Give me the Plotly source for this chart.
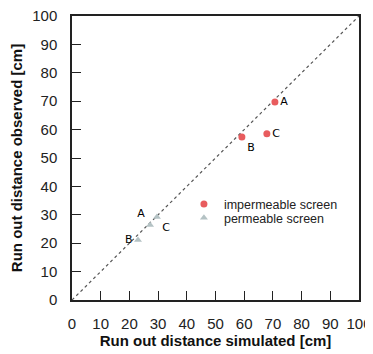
import plotly.graph_objects as go

labels = ["A", "B", "C"]
imp_sim = [70.7, 59.2, 67.9]
imp_obs = [69.7, 57.4, 58.5]
perm_sim = [27.2, 23.0, 29.6]
perm_obs = [26.4, 21.1, 29.2]
ticks = [0, 10, 20, 30, 40, 50, 60, 70, 80, 90, 100]

fig = go.Figure()
fig.add_trace(go.Scatter(x=[0, 100], y=[0, 100], mode="lines",
                         line=dict(color="#555555", width=1.2, dash="dot"),
                         showlegend=False, hoverinfo="skip"))
fig.add_trace(go.Scatter(x=imp_sim, y=imp_obs, mode="markers+text", name="impermeable screen",
                         text=labels, textposition=["middle right", "bottom right", "middle right"],
                         textfont=dict(family="DejaVu Sans", size=11, color="black"),
                         marker=dict(symbol="circle", size=7, color="#e85c5e"), legend="legend"))
fig.add_trace(go.Scatter(x=perm_sim, y=perm_obs, mode="markers+text", name="permeable screen",
                         text=labels, textposition=["top left", "middle left", "bottom right"],
                         textfont=dict(family="DejaVu Sans", size=11, color="black"),
                         marker=dict(symbol="triangle-up", size=7, color="#b4c2c4"), legend="legend2"))

axis_common = dict(range=[0, 100], tickvals=ticks, ticks="inside", ticklen=9,
                   tickcolor="#222", tickwidth=1, showline=True, linecolor="#222",
                   linewidth=1.5, mirror=True, showgrid=False, zeroline=False,
                   automargin=False, ticklabeloverflow="allow",
                   tickfont=dict(family="Liberation Sans, Arial", size=15, color="#222"))
fig.update_xaxes(**axis_common, ticklabelstandoff=9,
                 title=dict(text="<b>Run out distance simulated [cm]</b>",
                 font=dict(family="Liberation Sans, Arial", size=15, color="#111"), standoff=4))
fig.update_yaxes(**axis_common, ticklabelstandoff=10,
                 title=dict(text="<b>Run out distance observed [cm]</b>",
                 font=dict(family="Liberation Sans, Arial", size=15, color="#111"), standoff=8))

leg_common = dict(x=0.39, xanchor="left", yanchor="middle", bgcolor="rgba(0,0,0,0)",
                  font=dict(family="Liberation Sans, Arial", size=12.5, color="#222"),
                  itemwidth=30, itemsizing="trace")
fig.update_layout(width=365, height=346, margin=dict(l=64, r=14, t=8, b=54),
                  paper_bgcolor="white", plot_bgcolor="white",
                  font=dict(family="Liberation Sans, Arial"),
                  legend=dict(y=0.337, **leg_common),
                  legend2=dict(y=0.288, **leg_common))
fig.write_html("out.html")
